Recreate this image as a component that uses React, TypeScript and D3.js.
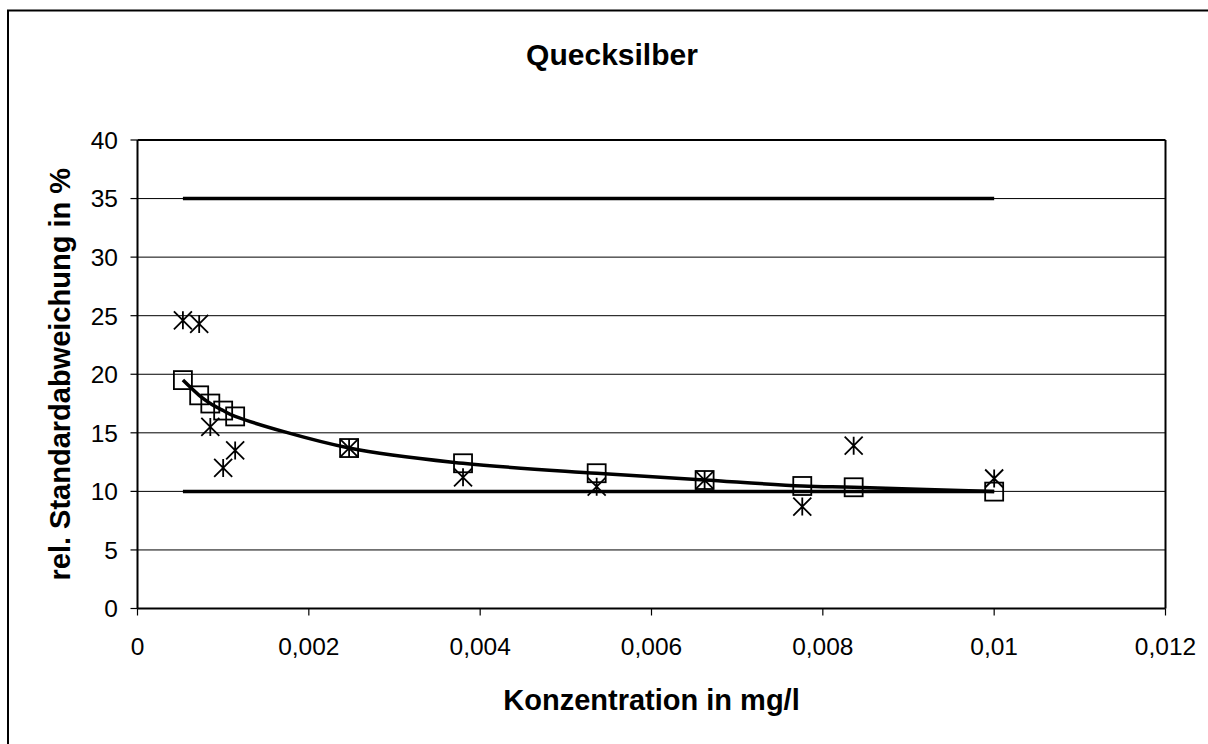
import React from 'react';
import * as d3 from 'd3';

// Konzentration (mg/l)
const conc = [0.00053, 0.00072, 0.00085, 0.001, 0.00114, 0.00247, 0.0038, 0.00536, 0.00662, 0.00776, 0.00836, 0.01];
// Ausgleichskurve (Quadrate)
const fitted = [19.5, 18.2, 17.5, 16.9, 16.4, 13.7, 12.4, 11.55, 10.97, 10.46, 10.35, 9.98];
// Messwerte (Sterne)
const measured = [24.6, 24.3, 15.5, 12.0, 13.5, 13.7, 11.2, 10.4, 10.97, 8.7, 13.9, 11.1];
// Grenzlinien
const limitX = [0.00053, 0.01];
const limits = [35, 10];

const xTicks = [0, 0.002, 0.004, 0.006, 0.008, 0.01, 0.012];
const xTickLabels = ['0', '0,002', '0,004', '0,006', '0,008', '0,01', '0,012'];
const yTicks = [0, 5, 10, 15, 20, 25, 30, 35, 40];

const W = 1208;
const H = 744;
const plot = { left: 137.5, right: 1165.5, top: 140, bottom: 608.5 };
const font = '"Liberation Sans", Arial, sans-serif';

const App: React.FC = () => {
  const x = d3.scaleLinear().domain([0, 0.012]).range([plot.left, plot.right]);
  const y = d3.scaleLinear().domain([0, 40]).range([plot.bottom, plot.top]);

  const curve = d3.line<number>()
    .x((_, i) => x(conc[i]))
    .y(d => y(d))
    .curve(d3.curveCatmullRom.alpha(0.5))(fitted) || '';

  const s = 9; // marker half size

  return (
    <svg width={W} height={H} style={{ position: 'absolute', left: 0, top: 0, background: '#fff' }}
      fontFamily={font}>
      <rect x={8} y={10.5} width={1240} height={760} fill="#fff" stroke="#000" strokeWidth={2} />

      {/* grid */}
      {yTicks.filter(t => t > 0 && t < 40).map(t => (
        <line key={t} x1={plot.left} x2={plot.right} y1={y(t)} y2={y(t)} stroke="#000" strokeWidth={1} />
      ))}
      {/* plot frame */}
      <line x1={plot.left} x2={plot.right} y1={plot.top} y2={plot.top} stroke="#000" strokeWidth={2} />
      <line x1={plot.right} x2={plot.right} y1={plot.top} y2={plot.bottom} stroke="#000" strokeWidth={2} />
      <line x1={plot.left} x2={plot.left} y1={plot.top} y2={plot.bottom} stroke="#000" strokeWidth={2} />
      <line x1={plot.left} x2={plot.right} y1={plot.bottom} y2={plot.bottom} stroke="#000" strokeWidth={2} />

      {/* y axis */}
      {yTicks.map(t => (
        <g key={t}>
          <line x1={plot.left - 7} x2={plot.left} y1={y(t)} y2={y(t)} stroke="#000" strokeWidth={1.2} />
          <text x={118} y={y(t)} dy="0.36em" textAnchor="end" fontSize={24.5}>{t}</text>
        </g>
      ))}
      {/* x axis */}
      {xTicks.map((t, i) => (
        <g key={t}>
          <line x1={x(t)} x2={x(t)} y1={plot.bottom} y2={plot.bottom + 7} stroke="#000" strokeWidth={1.2} />
          <text x={x(t)} y={655} textAnchor="middle" fontSize={24.5}>{xTickLabels[i]}</text>
        </g>
      ))}

      {/* limits */}
      {limits.map(l => (
        <line key={l} x1={x(limitX[0])} x2={x(limitX[1])} y1={y(l)} y2={y(l)} stroke="#000" strokeWidth={3.5} />
      ))}

      {/* fitted curve */}
      <path d={curve} fill="none" stroke="#000" strokeWidth={3.5} />

      {/* squares */}
      {fitted.map((v, i) => (
        <rect key={'q' + i} x={x(conc[i]) - s} y={y(v) - s} width={2 * s} height={2 * s}
          fill="none" stroke="#000" strokeWidth={1.8} />
      ))}

      {/* stars */}
      {measured.map((v, i) => {
        const cx = x(conc[i]);
        const cy = y(v);
        return (
          <path key={'s' + i}
            d={`M${cx - s},${cy - s}L${cx + s},${cy + s}M${cx - s},${cy + s}L${cx + s},${cy - s}M${cx},${cy - s}L${cx},${cy + s}`}
            stroke="#000" strokeWidth={1.8} fill="none" />
        );
      })}

      {/* titles */}
      <text x={612} y={65} textAnchor="middle" fontSize={30} fontWeight="bold">Quecksilber</text>
      <text x={(plot.left + plot.right) / 2} y={710} textAnchor="middle" fontSize={29} fontWeight="bold">
        Konzentration in mg/l
      </text>
      <text transform={`translate(70,${(plot.top + plot.bottom) / 2}) rotate(-90)`} textAnchor="middle"
        fontSize={29} fontWeight="bold">
        rel. Standardabweichung in %
      </text>
    </svg>
  );
};

export default App;
